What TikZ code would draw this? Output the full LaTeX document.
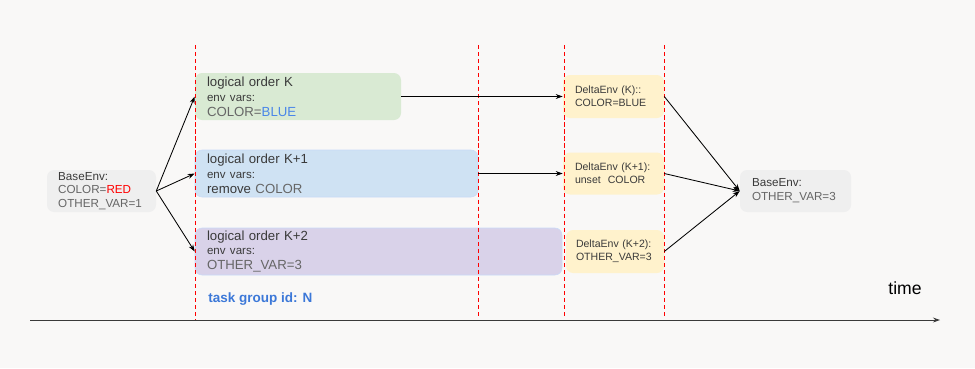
\documentclass[tikz,border=0pt]{standalone}
\usepackage{fontspec}
\setmainfont{Liberation Sans}
\definecolor{pagebg}{HTML}{F9F8F7}
\definecolor{envgray}{HTML}{EFEFEF}
\definecolor{phasegreen}{HTML}{D9EAD3}
\definecolor{phaseblue}{HTML}{CFE2F3}
\definecolor{phasepurple}{HTML}{D9D2E9}
\definecolor{edgeblue}{HTML}{C9DAF8}
\definecolor{deltayellow}{HTML}{FFF2CC}
\definecolor{inkdark}{HTML}{3A3A3A}
\definecolor{inkgray}{HTML}{666666}
\definecolor{inkblue}{HTML}{4A86E8}
\definecolor{groupblue}{HTML}{3C78D8}
\definecolor{inkred}{HTML}{FF0000}
\usetikzlibrary{arrows.meta, positioning, backgrounds}
\newcommand{\phasefont}{\fontsize{9.4}{10.6}\selectfont}
\newcommand{\varsfont}{\fontsize{8.2}{10.6}\selectfont}
\tikzset{
  phase/.style={
    fill=#1, draw=none, rounded corners=5pt,
    minimum height=1.175cm, inner xsep=0.3cm, inner ysep=0pt,
    font=\phasefont, text=inkdark, align=left
  },
  phase/.default=phasegreen,
  delta/.style={
    fill=deltayellow, rounded corners=5pt,
    inner xsep=0.3cm, inner ysep=0pt,
    font=\fontsize{7.5}{9.2}\selectfont, text=inkdark, align=left
  },
  envbox/.style={
    fill=envgray, rounded corners=5pt, minimum height=1.05cm,
    inner xsep=0.28cm, inner ysep=0pt,
    font=\fontsize{8.3}{9.8}\selectfont, text=inkgray, align=left
  },
  arr/.style={-{Stealth[length=5pt,width=3.5pt]}, line width=0.6pt, color=black},
  guide/.style={draw=inkred, dash pattern=on 3pt off 2pt, line width=0.6pt},
}

\begin{document}
\begin{tikzpicture}
    \fill[pagebg] (0,0) rectangle (24.375,-9.2);
    \useasboundingbox (0,0) rectangle (24.375,-9.2);

    \node[envbox, text width=2.165cm] (basel) at (2.5375,-4.775)
      {\textcolor{inkdark}{BaseEnv:}\\COLOR=\textcolor{inkred}{RED}\\OTHER\_VAR=1};

    \node[phase=phasegreen, text width=4.55cm] (ordk) at (7.45,-2.4125)
      {logical order K\\{\varsfont env vars:}\\\textcolor{inkgray}{COLOR=}\textcolor{inkblue}{BLUE}};
    \node[phase=phaseblue, draw=edgeblue, line width=0.4pt, text width=6.475cm] (ordk1) at (8.4125,-4.3375)
      {logical order K+1\\{\varsfont env vars:}\\remove \textcolor{inkgray}{COLOR}};
    \node[phase=phasepurple, draw=edgeblue, line width=0.4pt, text width=8.575cm] (ordk2) at (9.4625,-6.2875)
      {logical order K+2\\{\varsfont env vars:}\\\textcolor{inkgray}{OTHER\_VAR=3}};

    \node[delta, text width=1.925cm, minimum height=1.075cm] (dk) at (15.3375,-2.4125)
      {DeltaEnv (K)::\\COLOR=BLUE};
    \node[delta, text width=1.925cm, minimum height=1.05cm] (dk1) at (15.3375,-4.3375)
      {DeltaEnv (K+1):\\unset\ \ COLOR};
    \node[delta, text width=1.95cm, inner xsep=0.25cm, minimum height=1.075cm] (dk2) at (15.375,-6.2875)
      {DeltaEnv (K+2):\\OTHER\_VAR=3};

    \node[envbox, text width=2.175cm, inner xsep=0.3cm] (baser) at (19.8875,-4.775)
      {\textcolor{inkdark}{BaseEnv:}\\OTHER\_VAR=3};

    \node[font=\bfseries\fontsize{9.6}{11}\selectfont, text=groupblue, anchor=west, inner sep=0pt] (group) at (5.2,-7.475)
      {task group id: N};
    \node[font=\fontsize{12.5}{14}\selectfont, text=black, inner sep=0pt] (timelbl) at (22.625,-7.2) {time};

    \coordinate (t0) at (0.75,-8.0);
    \coordinate (t1) at (23.5,-8.0);
    \draw[-{Stealth[length=5pt,width=3.5pt]}, line width=0.7pt, color=inkdark] (t0) -- (t1);

    \foreach \gx/\gy in {4.875/-8.0, 11.95/-7.95, 14.1/-7.95, 16.6/-7.9}
      \draw[guide] (\gx,-1.125) -- (\gx,\gy);

    \draw[arr] (basel.east) -- (ordk.west);
    \draw[arr] (basel.east) -- (ordk1.west);
    \draw[arr] (basel.east) -- (ordk2.west);
    \draw[arr] (ordk.east) -- (dk.west);
    \draw[arr] (ordk1.east) -- (dk1.west);
    \draw[arr] (dk.east) -- (baser.west);
    \draw[arr] (dk1.east) -- (baser.west);
    \draw[arr] (dk2.east) -- (baser.west);
  \end{tikzpicture}
\end{document}
